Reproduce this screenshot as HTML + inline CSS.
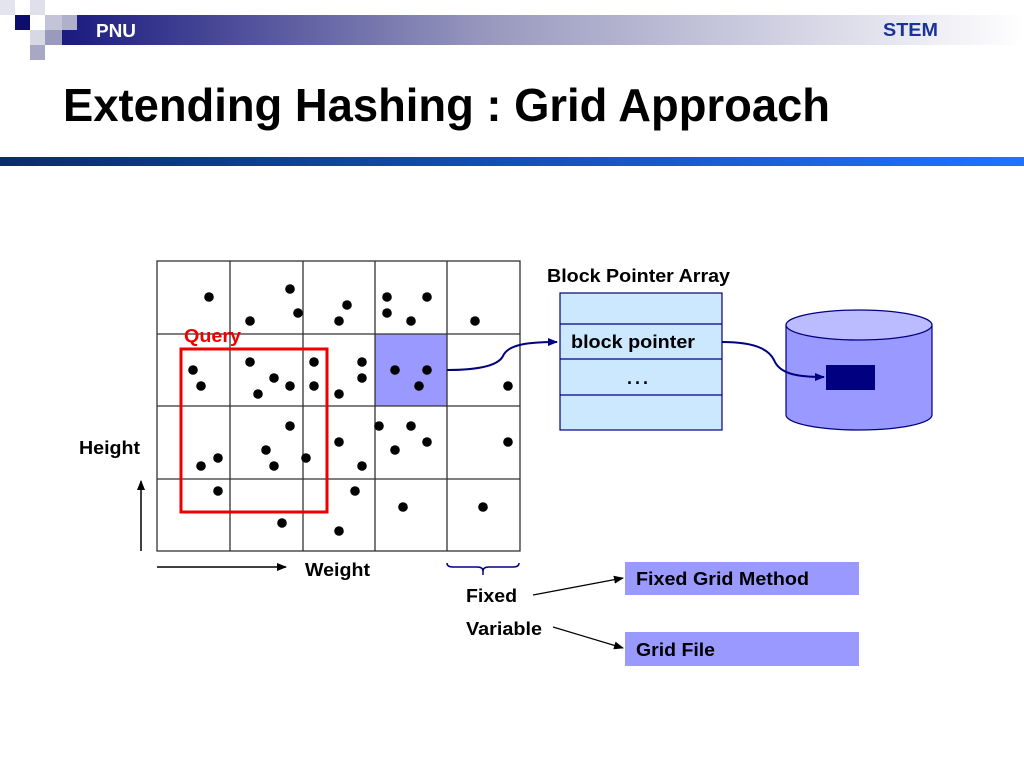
<!DOCTYPE html>
<html><head><meta charset="utf-8"><style>
html,body{margin:0;padding:0;background:#fff;width:1024px;height:768px;overflow:hidden}
svg{display:block}
text{font-family:"Liberation Sans",Arial,sans-serif;font-weight:bold}
</style></head><body>
<svg width="1024" height="768" viewBox="0 0 1024 768" xmlns="http://www.w3.org/2000/svg">
<defs>
<linearGradient id="hb" x1="0" x2="1" y1="0" y2="0">
<stop offset="0" stop-color="#1a1a80"/><stop offset="0.45" stop-color="#9a9ac0"/><stop offset="1" stop-color="#ffffff"/></linearGradient>
<linearGradient id="bb" x1="0" x2="1" y1="0" y2="0">
<stop offset="0" stop-color="#0d2a70"/><stop offset="1" stop-color="#1a75ff"/></linearGradient>
<marker id="ab" markerWidth="10" markerHeight="8" refX="9" refY="4" orient="auto" markerUnits="userSpaceOnUse"><path d="M0,0 L10,4 L0,8 Z" fill="#000080"/></marker>
<marker id="ak" markerWidth="10" markerHeight="8" refX="9" refY="4" orient="auto" markerUnits="userSpaceOnUse"><path d="M0,0 L10,4 L0,8 Z" fill="#000"/></marker>
</defs>
<rect x="0" y="0" width="15" height="15" fill="#e4e4ee"/>
<rect x="30" y="0" width="15" height="15" fill="#e0e0ea"/>
<rect x="62" y="15" width="962" height="30" fill="url(#hb)"/>
<rect x="15" y="15" width="15" height="15" fill="#0d0d70"/>
<rect x="45" y="15" width="17" height="15" fill="#c4c4d8"/>
<rect x="62" y="15" width="15" height="15" fill="#b0b0cc"/>
<rect x="30" y="30" width="15" height="15" fill="#d8d8e4"/>
<rect x="45" y="30" width="17" height="15" fill="#9a9abc"/>
<rect x="30" y="45" width="15" height="15" fill="#a8a8c4"/>
<text x="96" y="37" font-size="18" fill="#fff" textLength="40" lengthAdjust="spacingAndGlyphs">PNU</text>
<text x="883" y="36" font-size="18" fill="#1a3399" textLength="55" lengthAdjust="spacingAndGlyphs">STEM</text>
<text x="63" y="121" font-size="46" fill="#000" textLength="767" lengthAdjust="spacingAndGlyphs">Extending Hashing : Grid Approach</text>
<rect x="0" y="157" width="1024" height="9" fill="url(#bb)"/>
<rect x="375" y="334" width="72" height="72" fill="#9999ff"/>
<g stroke="#333" stroke-width="1.3" fill="none">
<rect x="157" y="261" width="363" height="290"/>
<line x1="230" y1="261" x2="230" y2="551"/><line x1="303" y1="261" x2="303" y2="551"/>
<line x1="375" y1="261" x2="375" y2="551"/><line x1="447" y1="261" x2="447" y2="551"/>
<line x1="157" y1="334" x2="520" y2="334"/><line x1="157" y1="406" x2="520" y2="406"/><line x1="157" y1="479" x2="520" y2="479"/>
</g>
<g fill="#000">
<circle cx="209" cy="297" r="4.8"/><circle cx="290" cy="289" r="4.8"/><circle cx="298" cy="313" r="4.8"/><circle cx="250" cy="321" r="4.8"/><circle cx="347" cy="305" r="4.8"/><circle cx="339" cy="321" r="4.8"/><circle cx="387" cy="297" r="4.8"/><circle cx="427" cy="297" r="4.8"/><circle cx="387" cy="313" r="4.8"/><circle cx="411" cy="321" r="4.8"/><circle cx="475" cy="321" r="4.8"/>
<circle cx="193" cy="370" r="4.8"/><circle cx="201" cy="386" r="4.8"/><circle cx="250" cy="362" r="4.8"/><circle cx="274" cy="378" r="4.8"/><circle cx="290" cy="386" r="4.8"/><circle cx="258" cy="394" r="4.8"/><circle cx="314" cy="362" r="4.8"/><circle cx="314" cy="386" r="4.8"/><circle cx="362" cy="362" r="4.8"/><circle cx="362" cy="378" r="4.8"/><circle cx="339" cy="394" r="4.8"/><circle cx="395" cy="370" r="4.8"/><circle cx="427" cy="370" r="4.8"/><circle cx="419" cy="386" r="4.8"/><circle cx="508" cy="386" r="4.8"/>
<circle cx="290" cy="426" r="4.8"/><circle cx="266" cy="450" r="4.8"/><circle cx="274" cy="466" r="4.8"/><circle cx="306" cy="458" r="4.8"/><circle cx="218" cy="458" r="4.8"/><circle cx="201" cy="466" r="4.8"/><circle cx="339" cy="442" r="4.8"/><circle cx="362" cy="466" r="4.8"/><circle cx="379" cy="426" r="4.8"/><circle cx="411" cy="426" r="4.8"/><circle cx="427" cy="442" r="4.8"/><circle cx="395" cy="450" r="4.8"/><circle cx="508" cy="442" r="4.8"/>
<circle cx="218" cy="491" r="4.8"/><circle cx="355" cy="491" r="4.8"/><circle cx="282" cy="523" r="4.8"/><circle cx="339" cy="531" r="4.8"/><circle cx="403" cy="507" r="4.8"/><circle cx="483" cy="507" r="4.8"/>
</g>
<rect x="181" y="349" width="146" height="163" fill="none" stroke="#ee0000" stroke-width="3"/>
<text x="184" y="342" font-size="18" fill="#ee0000" textLength="57" lengthAdjust="spacingAndGlyphs">Query</text>
<text x="79" y="454" font-size="18" fill="#000" textLength="61" lengthAdjust="spacingAndGlyphs">Height</text>
<line x1="141" y1="551" x2="141" y2="481" stroke="#000" stroke-width="1.5" marker-end="url(#ak)"/>
<line x1="157" y1="567" x2="286" y2="567" stroke="#000" stroke-width="1.5" marker-end="url(#ak)"/>
<text x="305" y="576" font-size="18" fill="#000" textLength="65" lengthAdjust="spacingAndGlyphs">Weight</text>
<path d="M447,563 q0,4 6,4 h24 q6,0 6,4 q0,-4 6,-4 h24 q6,0 6,-4" fill="none" stroke="#000080" stroke-width="1.5"/>
<line x1="483" y1="569" x2="483" y2="575" stroke="#000080" stroke-width="1.5"/>
<text x="466" y="602" font-size="18" fill="#000" textLength="51" lengthAdjust="spacingAndGlyphs">Fixed</text>
<text x="466" y="635" font-size="18" fill="#000" textLength="76" lengthAdjust="spacingAndGlyphs">Variable</text>
<line x1="533" y1="595" x2="623" y2="578" stroke="#000" stroke-width="1.2" marker-end="url(#ak)"/>
<line x1="553" y1="627" x2="623" y2="648" stroke="#000" stroke-width="1.2" marker-end="url(#ak)"/>
<rect x="625" y="562" width="234" height="33" fill="#9999ff"/>
<text x="636" y="585" font-size="18" fill="#000" textLength="173" lengthAdjust="spacingAndGlyphs">Fixed Grid Method</text>
<rect x="625" y="632" width="234" height="34" fill="#9999ff"/>
<text x="636" y="656" font-size="18" fill="#000" textLength="79" lengthAdjust="spacingAndGlyphs">Grid File</text>
<text x="547" y="282" font-size="18" fill="#000" textLength="183" lengthAdjust="spacingAndGlyphs">Block Pointer Array</text>
<rect x="560" y="293" width="162" height="137" fill="#cce8ff" stroke="#000080" stroke-width="1.2"/>
<g stroke="#000080" stroke-width="1.2"><line x1="560" y1="324" x2="722" y2="324"/><line x1="560" y1="359" x2="722" y2="359"/><line x1="560" y1="395" x2="722" y2="395"/></g>
<text x="571" y="348" font-size="18" fill="#000" textLength="124" lengthAdjust="spacingAndGlyphs">block pointer</text>
<text x="627" y="384" font-size="18" fill="#000" letter-spacing="3">...</text>
<path d="M447,370 C490,370 500,362 503,356 C508,344 530,342 557,342" fill="none" stroke="#000080" stroke-width="2" marker-end="url(#ab)"/>
<path d="M786,325 V415 A73,15 0 0 0 932,415 V325 Z" fill="#9999ff" stroke="#000080" stroke-width="1.2"/>
<ellipse cx="859" cy="325" rx="73" ry="15" fill="#bbbbff" stroke="#000080" stroke-width="1.2"/>
<rect x="826" y="365" width="49" height="25" fill="#000080"/>
<path d="M722,342 C760,342 770,352 774,360 C780,375 800,377 824,377" fill="none" stroke="#000080" stroke-width="2" marker-end="url(#ab)"/>
</svg>
</body></html>
